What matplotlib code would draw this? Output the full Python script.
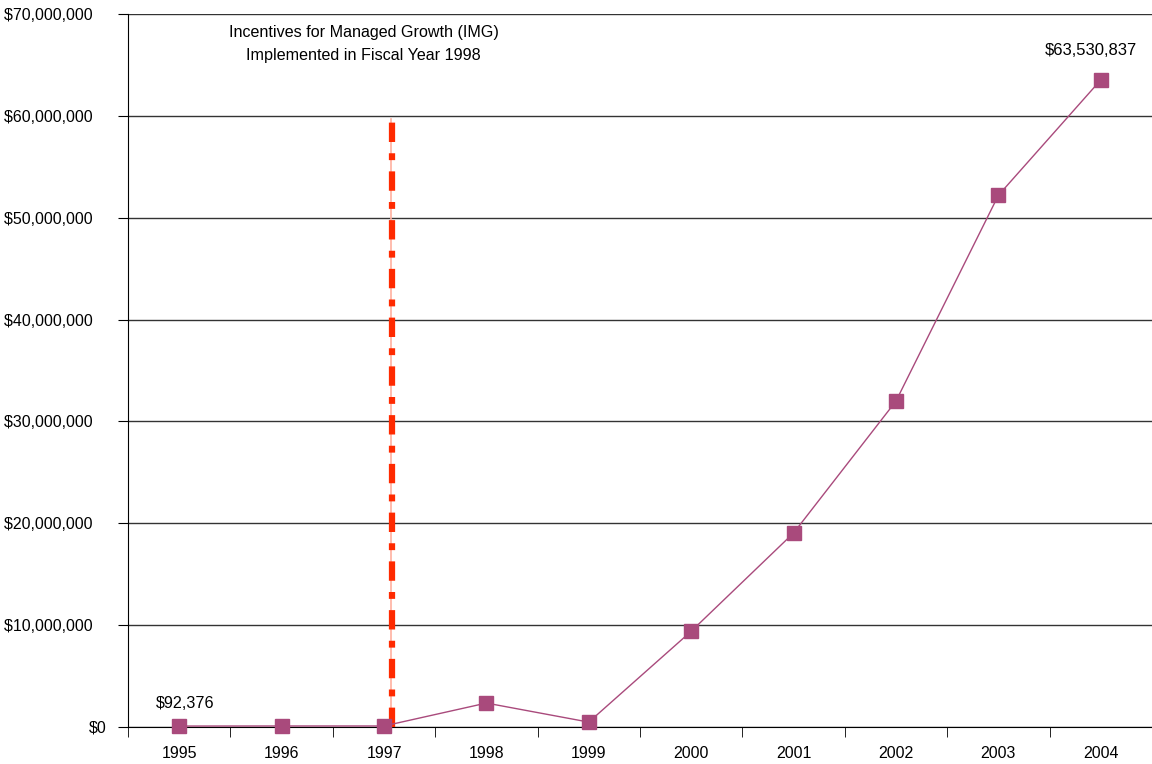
import matplotlib
matplotlib.use("Agg")
import matplotlib.pyplot as plt
from matplotlib.ticker import FuncFormatter, FixedLocator
import numpy as np

plt.rcParams['font.family'] = ['Liberation Sans', 'DejaVu Sans']

years = ['1995', '1996', '1997', '1998', '1999', '2000', '2001', '2002', '2003', '2004']
values = [92376, 100000, 100000, 2350000, 480000, 9400000, 19050000, 32000000, 52200000, 63530837]
img_year_pos = 2.08
img_line_top = 59700000

fig = plt.figure(figsize=(11.52, 7.64), dpi=100)
ax = fig.add_axes([128/1152, 1 - 727/764, 1 - 128/1152, (727 - 14)/764])

x = np.arange(len(years))
ax.set_xlim(-0.5, len(years) - 0.5)
ax.set_ylim(0, 70000000)


def yfmt(v, p):
    if v == 0:
        return '$0'
    return '${:,.0f}'.format(v) + '\u00a0\u00a0\u00a0'


ax.set_yticks(np.arange(0, 70000001, 10000000))
ax.yaxis.set_major_formatter(FuncFormatter(yfmt))
ax.grid(axis='y', color='#333333', linewidth=1)
ax.set_axisbelow(True)

ax.set_xticks(x)
ax.set_xticklabels(years)
ax.xaxis.set_minor_locator(FixedLocator(np.arange(-0.5, len(years), 1)))
ax.tick_params(axis='x', which='major', length=0, pad=14, labelsize=11.5)
ax.tick_params(axis='x', which='minor', length=7, direction='out', color='black')
ax.tick_params(axis='y', which='major', length=7, direction='out', labelsize=11.5, pad=8.5)

for s in ['top', 'right']:
    ax.spines[s].set_visible(False)
ax.spines['left'].set_color('black')
ax.spines['bottom'].set_color('black')

# IMG implementation line
ax.plot([img_year_pos - 0.01, img_year_pos - 0.01], [0, img_line_top], color='#FFB0A0', linewidth=1.2, zorder=3)
ax.plot([img_year_pos, img_year_pos], [0, img_line_top], color='#FF2A00', linewidth=4.5,
        linestyle=(0, (3.1, 1.8, 1.1, 1.8)), zorder=3)

ax.plot(x, values, color='#A94A7C', linewidth=1, marker='s', markersize=10.5,
        markerfacecolor='#A94A7C', markeredgecolor='#A94A7C', zorder=4, clip_on=False)

ax.annotate('$92,376', (x[0], values[0]), xytext=(4, 11), textcoords='offset points',
            ha='center', va='bottom', fontsize=11.6)
ax.annotate('$63,530,837', (x[-1], values[-1]), xytext=(-7, 16), textcoords='offset points',
            ha='center', va='bottom', fontsize=12)

ax.text(1.80, 67050000, 'Incentives for Managed Growth (IMG)\nImplemented in Fiscal Year 1998',
        ha='center', va='center', fontsize=11.6, linespacing=1.6)

fig.savefig('out.png', dpi=100)
